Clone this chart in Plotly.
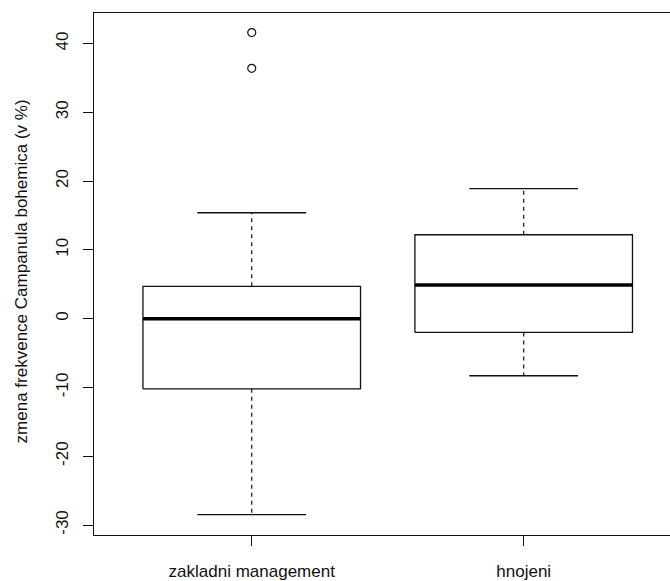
import plotly.graph_objects as go

# Data
categories = ["zakladni management", "hnojeni"]
positions = [1, 2]
lower_whisker = [-28.5, -8.3]
q1 = [-10.2, -2.0]
median = [0.0, 4.9]
q3 = [4.7, 12.2]
upper_whisker = [15.4, 18.9]
outliers = [[41.6, 36.4], []]

y_ticks = [-30, -20, -10, 0, 10, 20, 30, 40]

BOX_HALF = 0.4
CAP_HALF = 0.2
LINE_COL = "#111111"
FONT = "Liberation Sans, Arial, sans-serif"
FS = 17

fig = go.Figure()

for i, c in enumerate(positions):
    # box rectangle
    fig.add_trace(go.Scatter(
        x=[c - BOX_HALF, c + BOX_HALF, c + BOX_HALF, c - BOX_HALF, c - BOX_HALF],
        y=[q1[i], q1[i], q3[i], q3[i], q1[i]],
        mode="lines", line=dict(color=LINE_COL, width=1.3),
        hoverinfo="skip", showlegend=False))
    # median
    fig.add_trace(go.Scatter(
        x=[c - BOX_HALF, c + BOX_HALF], y=[median[i], median[i]],
        mode="lines", line=dict(color="#000000", width=3.5),
        hoverinfo="skip", showlegend=False))
    # whiskers (dashed)
    for a, b in [(q3[i], upper_whisker[i]), (q1[i], lower_whisker[i])]:
        fig.add_trace(go.Scatter(
            x=[c, c], y=[a, b], mode="lines",
            line=dict(color=LINE_COL, width=1.2, dash="4px,4px"),
            hoverinfo="skip", showlegend=False))
    # caps
    for v in [upper_whisker[i], lower_whisker[i]]:
        fig.add_trace(go.Scatter(
            x=[c - CAP_HALF, c + CAP_HALF], y=[v, v], mode="lines",
            line=dict(color=LINE_COL, width=1.3),
            hoverinfo="skip", showlegend=False))
    # outliers
    if outliers[i]:
        fig.add_trace(go.Scatter(
            x=[c] * len(outliers[i]), y=outliers[i], mode="markers",
            marker=dict(symbol="circle-open", size=8, color=LINE_COL,
                        line=dict(color=LINE_COL, width=1.2)),
            hoverinfo="skip", showlegend=False))

fig.update_layout(
    width=670, height=581,
    margin=dict(l=94, r=0, t=13, b=43),
    paper_bgcolor="white", plot_bgcolor="white",
    font=dict(family=FONT, size=FS, color="#111111"),
    showlegend=False,
    xaxis=dict(
        range=[0.42, 2.538], tickvals=positions, ticktext=categories,
        showgrid=False, zeroline=False,
        showline=True, mirror=True, linecolor=LINE_COL, linewidth=1.3,
        ticks="outside", ticklen=10, tickwidth=1.3, tickcolor=LINE_COL,
        ticklabelstandoff=10,
        tickfont=dict(family=FONT, size=FS, color="#111111")),
    yaxis=dict(
        range=[-31.45, 44.44], tickvals=y_ticks,
        ticktext=[str(v) for v in y_ticks],
        showgrid=False, zeroline=False,
        showline=True, mirror=False, linecolor=LINE_COL, linewidth=1.3,
        ticks="outside", ticklen=10, tickwidth=1.3, tickcolor=LINE_COL,
        tickangle=-90, ticklabelstandoff=8,
        tickfont=dict(family=FONT, size=FS, color="#111111")),
    annotations=[dict(
        text="zmena frekvence Campanula bohemica (v %)",
        xref="paper", yref="paper", x=(21 - 94) / 576, y=0.505,
        textangle=-90, showarrow=False,
        xanchor="center", yanchor="middle",
        font=dict(family=FONT, size=FS, color="#111111"))],
)

fig.write_html(
    "out.html",
    config={"displayModeBar": False},
    post_script="document.body.style.margin='0px';document.body.style.overflow='hidden';",
)
